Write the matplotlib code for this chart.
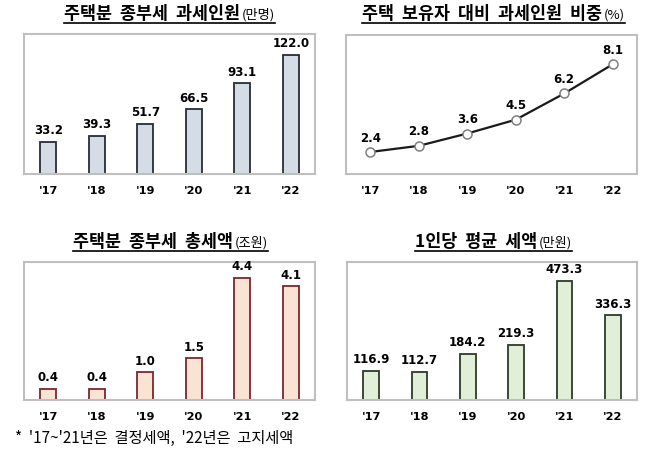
import matplotlib
matplotlib.use('Agg')
import matplotlib.pyplot as plt
from matplotlib.lines import Line2D

plt.rcParams['font.family'] = ['Noto Sans CJK KR', 'DejaVu Sans']

# data
years = ["'17", "'18", "'19", "'20", "'21", "'22"]
taxpayers = [33.2, 39.3, 51.7, 66.5, 93.1, 122.0]      # 만명
share = [2.4, 2.8, 3.6, 4.5, 6.2, 8.1]                 # %
total_tax = [0.4, 0.4, 1.0, 1.5, 4.4, 4.1]             # 조원
avg_tax = [116.9, 112.7, 184.2, 219.3, 473.3, 336.3]   # 만원

W, H = 658, 449
fig = plt.figure(figsize=(W / 100, H / 100), dpi=100)
FRAME = '#BFBFBF'
NUM_FONT = 'DejaVu Sans'


def px_axes(x0, y0, x1, y1):
    return fig.add_axes([x0 / W, 1 - y1 / H, (x1 - x0) / W, (y1 - y0) / H])


def style(ax, lo, hi):
    ax.set_xlim(-0.5, len(years) - 0.5)
    ax.set_ylim(lo, hi)
    ax.set_yticks([])
    ax.set_xticks(range(len(years)))
    ax.set_xticklabels(years, fontsize=8.2, fontweight='bold', family=NUM_FONT)
    ax.tick_params(axis='x', length=0, pad=9)
    for s in ax.spines.values():
        s.set_color(FRAME)
        s.set_linewidth(1.5)


def bar_panel(ax, values, fill, edge, top):
    x = range(len(values))
    ax.bar(x, values, width=0.33, color=fill, edgecolor=edge, linewidth=1.3, zorder=2)
    for i, v in enumerate(values):
        ax.annotate(f'{v:.1f}', (i, v), xytext=(0, 8), textcoords='offset points',
                    ha='center', va='center', fontsize=8.5, fontweight='bold', family=NUM_FONT)
    style(ax, 0, top)


def title(cx, y, main, unit):
    # main text bold + smaller unit, centered together and underlined
    t1 = fig.text(0, 1 - y / H, main, fontsize=12.5, fontweight='bold', va='baseline', ha='left')
    t2 = fig.text(0, 1 - y / H, unit, fontsize=9.5, va='baseline', ha='left')
    r = fig.canvas.get_renderer()
    w1 = t1.get_window_extent(r).width
    w2 = t2.get_window_extent(r).width
    x0 = cx - (w1 + w2) / 2
    t1.set_x(x0 / W)
    t2.set_x((x0 + w1 + 1) / W)
    yl = 1 - (y + 4) / H
    fig.add_artist(Line2D([x0 / W, (x0 + w1 + w2 + 1) / W], [yl, yl], color='black', lw=1.2))


# panel 1
ax1 = px_axes(24, 34, 315, 174)
bar_panel(ax1, taxpayers, '#D5DCE6', '#262C38', 143.5)
title(169, 19, '주택분  종부세  과세인원', '(만명)')

# panel 2
ax2 = px_axes(346, 35, 637, 174)
ax2.plot(range(len(share)), share, color='#1A1A1A', lw=1.6, zorder=2,
         marker='o', markersize=6.5, markerfacecolor='white', markeredgecolor='#7F7F7F', markeredgewidth=1.1)
for i, v in enumerate(share):
    ax2.annotate(f'{v:.1f}', (i, v), xytext=(0, 10), textcoords='offset points',
                 ha='center', va='center', fontsize=8.5, fontweight='bold', family=NUM_FONT)
style(ax2, 0.97, 10.0)
title(493, 19, '주택  보유자  대비  과세인원  비중', '(%)')

# panel 3
ax3 = px_axes(24, 262, 315, 400)
bar_panel(ax3, total_tax, '#FBE3D3', '#7B2630', 4.98)
title(170, 247, '주택분  종부세  총세액', '(조원)')

# panel 4
ax4 = px_axes(347, 262, 637, 400)
bar_panel(ax4, avg_tax, '#E2EFD8', '#2C3A28', 549)
title(493, 247, '1인당  평균  세액', '(만원)')

fig.text(15 / W, 1 - 438 / H, "*  '17~'21년은  결정세액,  '22년은  고지세액",
         fontsize=11, va='center', ha='left')

fig.savefig('out.png', dpi=100, facecolor='white')
